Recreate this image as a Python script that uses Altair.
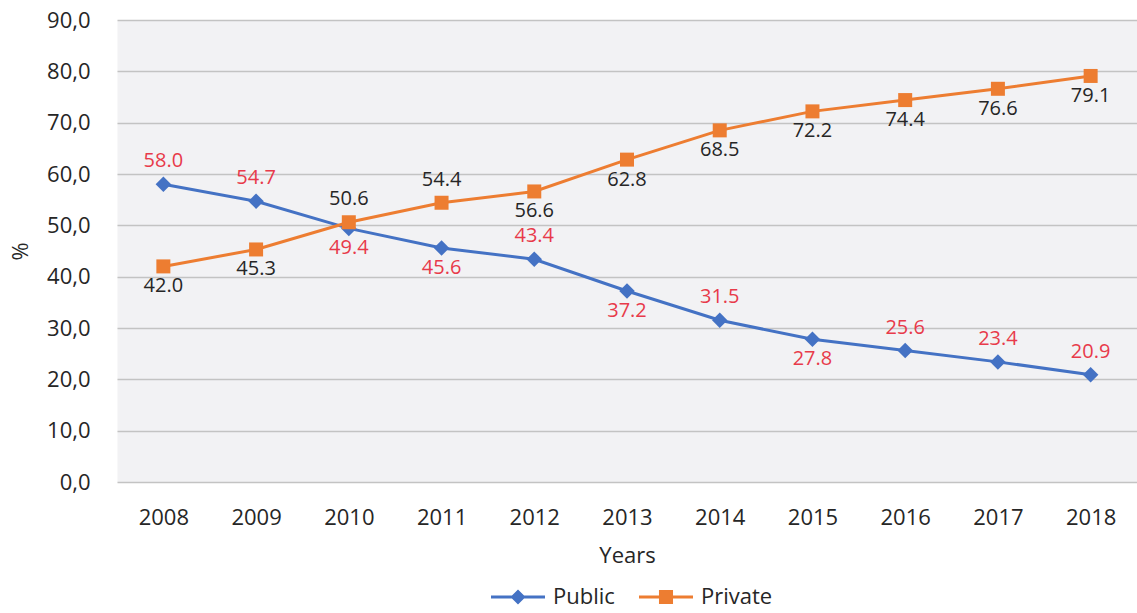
import altair as alt
import pandas as pd

years = [str(y) for y in range(2008, 2019)]
public_values = [58.0, 54.7, 49.4, 45.6, 43.4, 37.2, 31.5, 27.8, 25.6, 23.4, 20.9]
private_values = [42.0, 45.3, 50.6, 54.4, 56.6, 62.8, 68.5, 72.2, 74.4, 76.6, 79.1]
public_label_above = [True, True, False, False, True, False, True, False, True, True, True]
private_label_above = [False, False, True, True, False, False, False, False, False, False, False]
y_ticks = [0, 10, 20, 30, 40, 50, 60, 70, 80, 90]

FONT = "Open Sans"
FS = 22
LABEL_FS = 20


def frame(name, values, above):
    return pd.DataFrame({
        "year": years,
        "value": values,
        "series": name,
        "label": [f"{v:.1f}" for v in values],
        "above": above,
    })


x_enc = alt.X(
    "year:O",
    title="Years",
    axis=alt.Axis(labelAngle=0, domain=False, ticks=False, tickSize=0, grid=False,
                  labelPadding=25, titlePadding=17),
)
y_enc = alt.Y(
    "value:Q",
    title="%",
    scale=alt.Scale(domain=[0, 90], nice=False),
    axis=alt.Axis(values=y_ticks, domain=False, ticks=False, tickSize=0, grid=True,
                  gridColor="#c3c3c3", gridWidth=1.3,
                  labelExpr="replace(format(datum.value, '.1f'), '.', ',')",
                  labelPadding=27, titleX=-97, titleY=231, titleBaseline="middle"),
)


def series_layer(df, name, color, shape, size, label_color, legend_path, legend_x):
    scale = alt.Scale(domain=[name], range=[color])
    legend = alt.Legend(
        orient="none", legendX=legend_x, legendY=550, title=None,
        symbolType=legend_path, symbolSize=2916, symbolStrokeWidth=0,
        symbolFillColor=color, symbolOpacity=1,
        labelFontSize=FS, labelFont=FONT, labelColor="#262626",
        labelOffset=8, padding=0,
    )
    color_enc = alt.Color("series:N", scale=scale, legend=legend)
    base = alt.Chart(df).encode(x=x_enc, y=y_enc)
    line = base.mark_line(strokeWidth=3).encode(color=color_enc)
    pts = base.mark_point(filled=True, shape=shape, size=size, opacity=1).encode(color=color_enc)
    text_above = base.mark_text(font=FONT, fontSize=LABEL_FS, color=label_color,
                                baseline="middle", dy=-23).encode(
        text="label:N"
    ).transform_filter("datum.above")
    text_below = base.mark_text(font=FONT, fontSize=LABEL_FS, color=label_color,
                                baseline="middle", dy=20).encode(
        text="label:N"
    ).transform_filter("!datum.above")
    return alt.layer(line, pts, text_above, text_below)


diamond_legend = "M-1,-0.056H1V0.056H-1Z M0,-0.28L0.28,0L0,0.28L-0.28,0Z"
square_legend = "M-1,-0.056H1V0.056H-1Z M-0.26,-0.26H0.26V0.26H-0.26Z"

pub = series_layer(frame("Public", public_values, public_label_above), "Public",
                   "#4472c4", "diamond", 240, "#e83a4a", diamond_legend, 374)
pri = series_layer(frame("Private", private_values, private_label_above), "Private",
                   "#ed7d31", "square", 196, "#262626", square_legend, 522)

chart = (
    alt.layer(pub, pri)
    .resolve_scale(color="independent")
    .resolve_legend(color="independent")
    .properties(width=1020, height=462, background="white",
                autosize=alt.AutoSizeParams(type="none"),
                padding={"left": 117, "top": 20, "right": 0, "bottom": 131})
    .configure_view(fill="#f2f2f4", strokeOpacity=0)
    .configure_axis(labelFont=FONT, labelFontSize=FS, labelColor="#262626",
                    titleFont=FONT, titleFontSize=FS, titleColor="#262626",
                    titleFontWeight="normal")
)

chart.save("out.html", embed_options={"renderer": "svg", "actions": False})
